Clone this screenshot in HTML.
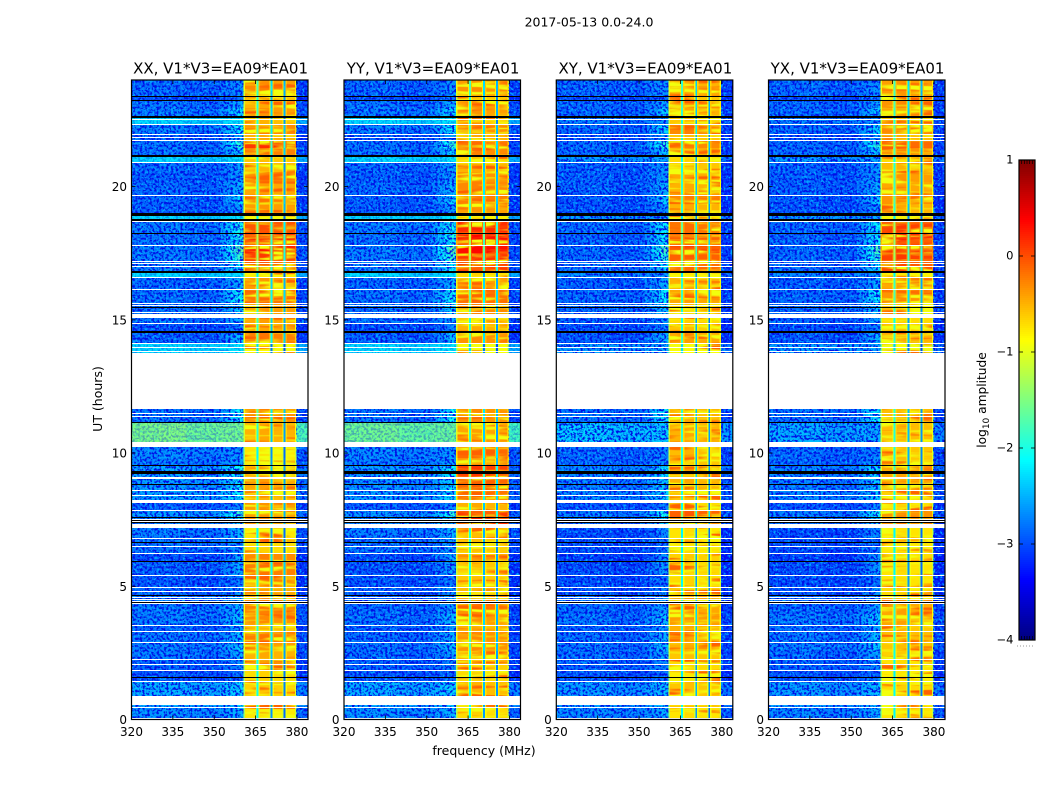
<!DOCTYPE html>
<html>
<head>
<meta charset="utf-8">
<title>2017-05-13 0.0-24.0</title>
<style>
html,body{margin:0;padding:0;background:#fff;}
svg{display:block;}
text{font-family:"DejaVu Sans","Liberation Sans",sans-serif;fill:#000;}
</style>
</head>
<body>
<svg id="figure" xmlns="http://www.w3.org/2000/svg" width="1050" height="800" viewBox="0 0 1050 800">
<defs>
<filter id="speckle-light" x="0" y="0" width="100%" height="100%" color-interpolation-filters="sRGB">
<feTurbulence type="fractalNoise" baseFrequency="0.42" numOctaves="2" seed="7"/>
<feColorMatrix type="matrix" values="0 0 0 0 0  0 0 0 0 0.66  0 0 0 0 1  5 0 0 0 -2.5"/>
</filter>
<filter id="speckle-dark" x="0" y="0" width="100%" height="100%" color-interpolation-filters="sRGB">
<feTurbulence type="fractalNoise" baseFrequency="0.42" numOctaves="2" seed="23"/>
<feColorMatrix type="matrix" values="0 0 0 0 0  0 0 0 0 0.06  0 0 0 0 0.9  5 0 0 0 -2.3"/>
</filter>
<filter id="stripe-light" x="0" y="0" width="100%" height="100%" color-interpolation-filters="sRGB">
<feTurbulence type="fractalNoise" baseFrequency="0.02 0.2" numOctaves="2" seed="11"/>
<feColorMatrix type="matrix" values="0 0 0 0 0.95  0 0 0 0 1  0 0 0 0 0.05  5 0 0 0 -2.35"/>
</filter>
<filter id="stripe-deep" x="0" y="0" width="100%" height="100%" color-interpolation-filters="sRGB">
<feTurbulence type="fractalNoise" baseFrequency="0.02 0.2" numOctaves="2" seed="37"/>
<feColorMatrix type="matrix" values="0 0 0 0 1  0 0 0 0 0.38  0 0 0 0 0  5 0 0 0 -2.7"/>
</filter>
</defs>
<rect x="0" y="0" width="1050" height="800" fill="#fff"/>
<text x="589" y="26.5" text-anchor="middle" font-size="12.5">2017-05-13 0.0-24.0</text>
<text x="484" y="755" text-anchor="middle" font-size="12.5">frequency (MHz)</text>
<text x="102" y="399" text-anchor="middle" font-size="12.5" transform="rotate(-90 102 399)">UT (hours)</text>
<text x="986" y="400" text-anchor="middle" font-size="12.2" transform="rotate(-90 986 400)">log<tspan font-size="9" dy="3">10</tspan><tspan dy="-3"> amplitude</tspan></text>
<g id="panels"></g>
<g id="colorbar"></g>
</svg>
<script>
// ---- chart data ----
const panelNames = ["XX", "YY", "XY", "YX"];
const baselineLabel = "V1*V3=EA09*EA01";
const freqTicks = [320, 335, 350, 365, 380];
const hourTicks = [0, 5, 10, 15, 20];
const colorbarTicks = [1, 0, -1, -2, -3, -4];

// time-band edges in UT hours, top to bottom
const bandEdges = [24.00,23.77,23.59,23.36,23.21,22.95,22.61,22.33,21.97,21.71,21.45,21.15,20.90,20.55,20.17,19.70,19.35,18.98,18.75,18.26,18.00,17.77,17.51,17.21,16.83,16.61,16.14,15.59,15.07,14.84,14.54,14.09,13.77,11.65,11.13,10.38,9.81,9.51,9.10,8.61,8.24,7.84,7.56,7.32,6.79,6.21,5.91,5.40,4.99,4.63,3.96,3.53,3.28,2.87,2.57,2.27,1.82,1.43,0.88,0.51,0.43,0.06,0];

// log10 amplitude in the strong 360-380 MHz band, one value per time band
const inBandXX = [-.4,-.3,-.45,-.55,-.5,-.4,-.55,-.3,-.5,.1, -.25,-.6,-.55,-.35,-.45,-.25,-.4,-.75,-.05,.15, -.05,.2,.05,-.1,-.8,-.4,-.2,-.4,-.45,-.5, -.25,-.9,-.9,-.3,-.5,-.75,-.7,-.5,-.45,-.55, -.4,-.4,-.35,-.75,-.7,-.3,-.25,-.55,-.45,-.3, -.35,-.55,-.25,-.4,-.5,-.7,-.7,-.65,-.7,-.65,-.75,-.7];
const inBandYY = [-.4,-.35,-.45,-.6,-.45,-.4,-.6,-.35,-.5,-.2, -.3,-.65,-.5,-.35,-.3,-.25,-.4,-.8,.15,.3, .1,.3,.1,.1,-.7,-.4,-.2,-.3,-.6,-.5, -.35,-.9,-.9,-.35,-.45,-.15,-.35,.05,-.15,-.2, -.5,.1,.15,-.6,-.6,-.45,-.6,-.6,-.55,-.35, -.4,-.5,-.35,-.35,-.5,-.65,-.7,-.55,-.7,-.6,-.7,-.7];
const inBandXY = [-.5,-.4,-.45,-.6,-.4,-.5,-.6,-.3,-.6,-.3, -.45,-.7,-.6,-.45,-.5,-.3,-.5,-.8,-.2,-.1, -.2,0,-.1,-.2,-.8,-.5,-.45,-.6,-.7,-.6, -.45,-.9,-.9,-.5,-.5,-.55,-.6,-.45,-.5,-.6, -.7,-.1,-.35,-.75,-.75,-.65,-.7,-.7,-.6,-.45, -.4,-.5,-.5,-.5,-.6,-.7,-.8,-.6,-.7,-.6,-.75,-.7];
const inBandYX = [-.4,-.3,-.4,-.6,-.35,-.45,-.6,-.3,-.55,-.15, -.35,-.7,-.55,-.4,-.45,-.35,-.5,-.8,.05,.15, 0,.15,.05,0,-.8,-.45,-.35,-.55,-.7,-.6, -.5,-.95,-.95,-.55,-.55,-.6,-.6,-.45,-.5,-.65, -.7,-.35,-.4,-.75,-.75,-.7,-.75,-.75,-.7,-.45, -.45,-.6,-.55,-.6,-.65,-.75,-.8,-.7,-.8,-.7,-.75,-.75];

// log10 amplitude of the weak out-of-band background, one value per time band
const outBandXX = [-2.85,-2.85,-2.85,-3,-2.8,-2.75,-2.3,-2.75,-2.95,-2.8, -2.8,-2.3,-2.85,-2.9,-2.85,-2.9,-2.9,-2.3,-2.75,-2.8, -2.8,-2.75,-2.75,-2.75,-2.3,-2.85,-2.8,-2.8,-2.8,-3, -2.9,-2.3,-2.3,-2.8,-1.55,-2.7,-2.75,-2.55,-2.6,-2.55, -2.9,-2.6,-2.7,-2.75,-2.8,-3,-2.9,-2.95,-2.9,-2.75, -2.75,-2.9,-2.8,-2.75,-2.8,-2.9,-2.95,-2.5,-2.5,-2.6,-2.65,-2.75];
const outBandYY = [-2.85,-2.85,-2.85,-3,-2.8,-2.75,-2.3,-2.75,-2.95,-2.8, -2.8,-2.3,-2.85,-2.9,-2.85,-2.9,-2.9,-2.3,-2.75,-2.8, -2.8,-2.75,-2.75,-2.75,-2.3,-2.85,-2.8,-2.8,-2.8,-3, -2.9,-2.3,-2.3,-2.8,-1.6,-2.7,-2.75,-2.6,-2.65,-2.6, -2.9,-2.65,-2.7,-2.75,-2.8,-3,-2.95,-2.95,-2.9,-2.85, -2.8,-2.9,-2.85,-2.8,-2.85,-2.9,-2.95,-2.5,-2.5,-2.6,-2.65,-2.75];
const outBandXY = [-2.85,-2.85,-2.85,-3,-2.85,-2.85,-2.75,-2.85,-3,-2.85, -2.85,-2.6,-2.9,-2.9,-2.9,-2.95,-2.95,-2.6,-2.85,-2.9, -2.85,-2.85,-2.85,-2.85,-2.7,-2.9,-2.85,-2.85,-2.9,-3, -2.95,-2.6,-2.6,-2.8,-2.35,-2.85,-2.85,-2.7,-2.75,-2.7, -2.95,-2.75,-2.8,-3,-3,-3.1,-3,-3,-2.95,-2.85, -2.8,-2.9,-2.85,-2.8,-2.85,-2.9,-2.95,-2.6,-2.6,-2.65,-2.7,-2.8];
const outBandYX = [-2.85,-2.85,-2.85,-3,-2.85,-2.85,-2.75,-2.85,-3,-2.85, -2.85,-2.6,-2.9,-2.9,-2.9,-2.95,-2.95,-2.6,-2.85,-2.9, -2.85,-2.85,-2.85,-2.85,-2.7,-2.9,-2.85,-2.85,-2.9,-3, -2.95,-2.6,-2.6,-2.8,-2.5,-2.85,-2.85,-2.7,-2.75,-2.7, -2.95,-2.75,-2.8,-3,-3,-3.1,-3,-3,-2.95,-2.85, -2.75,-2.85,-2.8,-2.75,-2.85,-2.9,-2.95,-2.6,-2.6,-2.65,-2.7,-2.8];

// rise of the low-frequency skirt just below the strong band, per time band
const skirtLift = [.2,.2,.2,.2,.3,.5,.1,.6,.4,.9, .5,.1,.3,.3,.4,.6,.3,.1,.7,.8, .7,1.1,.9,.6,.1,.4,.7,.5,.3,.3, .5,.1,.1,.7,0,.1,.2,.5,.4,.4, .2,.7,.5,.3,.2,.5,.4,.2,.3,.3, .4,.3,.4,.4,.3,.2,.1,.2,.2,.2,.2,.2];

// frequency channels: edges in MHz, and each channel's source mix and offset
const channelEdges = [320,330,340,352,354,356,358,360.6,361.2,365,365.3,366,366.5,370,370.4,371.1,371.6,374.7,375.1,375.8,376.3,379.2,379.8,384];
const channelSkirtShare = [0,0,0,.25,.5,.75,1,0,0,0,0,0,0,0,0,0,0,0,0,0,0,0,0];
const channelIsInBand = [0,0,0,0,0,0,0,1,1,1,1,1,1,1,1,1,1,1,1,1,1,1,0];
const channelOffset = [.03,.05,-.03,0,0,0,0,-.6,0,-.4,-1.4,-.2,.05,-.4,-1.9,-.2,0,-.4,-2.1,-.2,0,-.4,-.2];

// the four strong sub-bands in MHz
const subbandStarts = [361.2, 366.5, 371.6, 376.3];
const subbandEnds = [365, 370, 374.7, 379.2];

// background level above which a band reads as a smooth strip, without speckle
const smoothStripLevel = -2.32;

// flagged time ranges in UT hours [from, to]
const whiteGaps = [[22.50,22.54],[22.31,22.35],[21.93,21.97],[21.82,21.86],[21.71,21.75],[20.88,20.92],[19.66,19.70],[18.67,18.71],[17.77,17.81],[17.17,17.21],[17.09,17.13],[16.98,17.02],[16.57,16.61],[16.12,16.16],[15.59,15.63],[15.52,15.56],[15.26,15.29],[15.07,15.22],[14.84,14.88],[14.09,14.13],[13.94,13.98],[13.79,13.83],[11.65,13.77],[11.47,11.50],[11.35,11.39],[10.23,10.40],[9.04,9.10],[8.57,8.61],[8.39,8.42],[8.11,8.24],[7.82,7.86],[7.49,7.53],[7.41,7.45],[7.17,7.32],[6.77,6.81],[6.47,6.51],[6.21,6.25],[5.38,5.42],[4.95,4.99],[4.81,4.84],[4.56,4.60],[4.48,4.52],[4.41,4.45],[4.33,4.37],[3.50,3.54],[3.28,3.33],[2.87,2.91],[2.23,2.27],[2.04,2.08],[1.80,1.84],[1.41,1.45],[0.54,0.88],[0.43,0.47],[0.04,0.07]];
const blackLines = [[23.36,23.40],[23.21,23.25],[22.57,22.65],[21.11,21.18],[18.91,19.01],[18.71,18.78],[18.22,18.26],[16.76,16.83],[15.44,15.48],[14.52,14.58],[11.13,11.16],[9.51,9.55],[9.21,9.33],[8.80,8.84],[7.56,7.60],[7.45,7.49],[7.36,7.41],[6.62,6.66],[5.91,5.95],[4.63,4.67],[4.37,4.41],[1.56,1.59]];

const inBandByPanel = [inBandXX, inBandYY, inBandXY, inBandYX];
const outBandByPanel = [outBandXX, outBandYY, outBandXY, outBandYX];

// ---- layout ----
const SVGNS = "http://www.w3.org/2000/svg";
const panelLefts = [131.5, 344, 556.3, 768.5];
const panelWidth = 176.5, plotTop = 80, plotBottom = 719.5;
const freqMin = 320, freqMax = 384, hourMin = 0, hourMax = 24;
const vMin = -4, vMax = 1;
const cbX = 1019, cbW = 16, cbTop = 160, cbBottom = 640;

function xScale(panel, mhz) { return panelLefts[panel] + (mhz - freqMin) / (freqMax - freqMin) * panelWidth; }
function yScale(hour) { return plotBottom - (hour - hourMin) / (hourMax - hourMin) * (plotBottom - plotTop); }
function cbScale(v) { return cbBottom - (v - vMin) / (vMax - vMin) * (cbBottom - cbTop); }

function clamp01(v) { return Math.max(0, Math.min(1, v)); }
function jet(t) {
  t = clamp01(t);
  const r = clamp01(Math.min(4 * t - 1.5, -4 * t + 4.5));
  const g = clamp01(Math.min(4 * t - 0.5, -4 * t + 3.5));
  const b = clamp01(Math.min(4 * t + 0.5, -4 * t + 2.5));
  return "rgb(" + Math.round(r * 255) + "," + Math.round(g * 255) + "," + Math.round(b * 255) + ")";
}
function colorFor(v) { return jet((v - vMin) / (vMax - vMin)); }
function make(tag, attrs, parent) {
  const el = document.createElementNS(SVGNS, tag);
  for (const k in attrs) el.setAttribute(k, attrs[k]);
  parent.appendChild(el);
  return el;
}
function cellValue(p, b, c) {
  if (channelIsInBand[c]) return inBandByPanel[p][b] + channelOffset[c];
  return outBandByPanel[p][b] + channelSkirtShare[c] * skirtLift[b] + channelOffset[c];
}

const panelsRoot = document.getElementById("panels");

panelNames.forEach(function (name, p) {
  const g = make("g", {}, panelsRoot);
  
  
  const left = panelLefts[p], right = left + panelWidth;

  const heat = make("g", { "shape-rendering": "crispEdges" }, g);
  
  

  // heatmap cells: one per time band and frequency channel
  for (let b = 0; b < bandEdges.length - 1; b++) {
    const y0 = yScale(bandEdges[b]), y1 = yScale(bandEdges[b + 1]);
    for (let c = 0; c < channelEdges.length - 1; c++) {
      const x0 = xScale(p, channelEdges[c]), x1 = xScale(p, channelEdges[c + 1]);
      const cell = make("rect", { x: x0.toFixed(2), y: y0.toFixed(2), width: (x1 - x0).toFixed(2), height: (y1 - y0).toFixed(2), fill: colorFor(cellValue(p, b, c)) }, heat);
      
      
    }
  }

  // fine speckle texture over the weak background
  const xBandLo = xScale(p, 360.6), xBandHi = xScale(p, 379.8);
  [[left, xBandLo], [xBandHi, right]].forEach(function (span) {
    ["speckle-light", "speckle-dark"].forEach(function (f) {
      const sp = make("rect", { x: span[0], y: plotTop, width: span[1] - span[0], height: plotBottom - plotTop, fill: "#fff", filter: "url(#" + f + ")" }, g);
      
      
    });
  });

  // bright strips read smoothly: lay their cells back over the speckle
  const calm = make("g", { "shape-rendering": "crispEdges", opacity: 0.65 }, g);
  
  
  for (let b = 0; b < bandEdges.length - 1; b++) {
    if (outBandByPanel[p][b] <= smoothStripLevel) continue;
    const y0 = yScale(bandEdges[b]), y1 = yScale(bandEdges[b + 1]);
    for (let c = 0; c < channelEdges.length - 1; c++) {
      if (channelIsInBand[c]) continue;
      const x0 = xScale(p, channelEdges[c]), x1 = xScale(p, channelEdges[c + 1]);
      const strip = make("rect", { x: x0.toFixed(2), y: y0.toFixed(2), width: (x1 - x0).toFixed(2), height: (y1 - y0).toFixed(2), fill: colorFor(cellValue(p, b, c)) }, calm);
      
      
    }
  }

  // horizontal banding texture inside each strong sub-band
  subbandStarts.forEach(function (start, i) {
    const xa = xScale(p, start), xb = xScale(p, subbandEnds[i]);
    ["stripe-light", "stripe-deep"].forEach(function (f) {
      const st = make("rect", { x: xa, y: plotTop, width: xb - xa, height: plotBottom - plotTop, fill: "#fff", filter: "url(#" + f + ")" }, g);
      
      
    });
  });

  // flagged ranges
  const flags = make("g", { "shape-rendering": "crispEdges" }, g);
  
  
  function drawFlag(range, color, label) {
    const top = Math.round(yScale(range[1]));
    const h = Math.max(1, Math.round(yScale(range[0]) - yScale(range[1])));
    const r = make("rect", { x: left, y: top, width: panelWidth, height: h, fill: color }, flags);
    
    
  }
  whiteGaps.forEach(function (rng) { drawFlag(rng, "#fff", "white-flag-gap"); });
  blackLines.forEach(function (rng) { drawFlag(rng, "#000", "black-flag-line"); });

  // frame
  const frame = make("rect", { x: left, y: plotTop, width: panelWidth, height: plotBottom - plotTop, fill: "none", stroke: "#000", "stroke-width": 1.2 }, g);
  
  

  // x ticks
  freqTicks.forEach(function (f) {
    const x = xScale(p, f);
    const t1 = make("line", { x1: x, x2: x, y1: plotBottom, y2: plotBottom - 4, stroke: "#000", "stroke-width": 0.8 }, g);
    
    
    const t2 = make("line", { x1: x, x2: x, y1: plotTop, y2: plotTop + 4, stroke: "#000", "stroke-width": 0.8 }, g);
    
    
    const lab = make("text", { x: x, y: 736, "text-anchor": "middle", "font-size": 12 }, g);
    
    
    lab.textContent = String(f);
  });

  // y ticks
  hourTicks.forEach(function (h) {
    const y = yScale(h);
    const t1 = make("line", { x1: left, x2: left + 4, y1: y, y2: y, stroke: "#000", "stroke-width": 0.8 }, g);
    
    
    const t2 = make("line", { x1: right, x2: right - 4, y1: y, y2: y, stroke: "#000", "stroke-width": 0.8 }, g);
    
    
    const lab = make("text", { x: left - 4.5, y: y + 4.5, "text-anchor": "end", "font-size": 12 }, g);
    
    
    lab.textContent = String(h);
  });

  // title
  const title = make("text", { x: left + panelWidth / 2 + 0.8, y: 73.5, "text-anchor": "middle", "font-size": 15 }, g);
  
  
  title.textContent = name + ", " + baselineLabel;
});

// ---- colorbar ----
const cb = document.getElementById("colorbar");
const cbStrip = make("g", { "shape-rendering": "crispEdges" }, cb);


for (let py = cbTop; py < cbBottom; py += 2) {
  const v = vMax - (py + 1 - cbTop) / (cbBottom - cbTop) * (vMax - vMin);
  const s = make("rect", { x: cbX, y: py, width: cbW, height: 2, fill: colorFor(v) }, cbStrip);
  
  
}
const cbFrame = make("rect", { x: cbX, y: cbTop, width: cbW, height: cbBottom - cbTop, fill: "none", stroke: "#000", "stroke-width": 1.2 }, cb);


colorbarTicks.forEach(function (v) {
  const y = cbScale(v);
  const a = make("line", { x1: cbX, x2: cbX + 4, y1: y, y2: y, stroke: "#000", "stroke-width": 0.8 }, cb);
  
  
  const c = make("line", { x1: cbX + cbW, x2: cbX + cbW - 4, y1: y, y2: y, stroke: "#000", "stroke-width": 0.8 }, cb);
  
  
  const lab = make("text", { x: cbX - 5.5, y: y + 3.5, "text-anchor": "end", "font-size": 11.5 }, cb);
  
  
  lab.textContent = v < 0 ? "\u2212" + Math.abs(v) : String(v);
});
for (let i = 1; i <= 5; i++) {
  const x = cbX + i * cbW / 6;
  const m1 = make("line", { x1: x, x2: x, y1: cbTop, y2: cbTop + 4, stroke: "#000", "stroke-width": 0.7 }, cb);
  
  
  const m2 = make("line", { x1: x, x2: x, y1: cbBottom, y2: cbBottom - 4, stroke: "#000", "stroke-width": 0.7 }, cb);
  
  
}
const dots = make("line", { x1: 1017, x2: 1035, y1: 646, y2: 646, stroke: "#999", "stroke-width": 1, "stroke-dasharray": "1 2" }, cb);


</script>
</body>
</html>
